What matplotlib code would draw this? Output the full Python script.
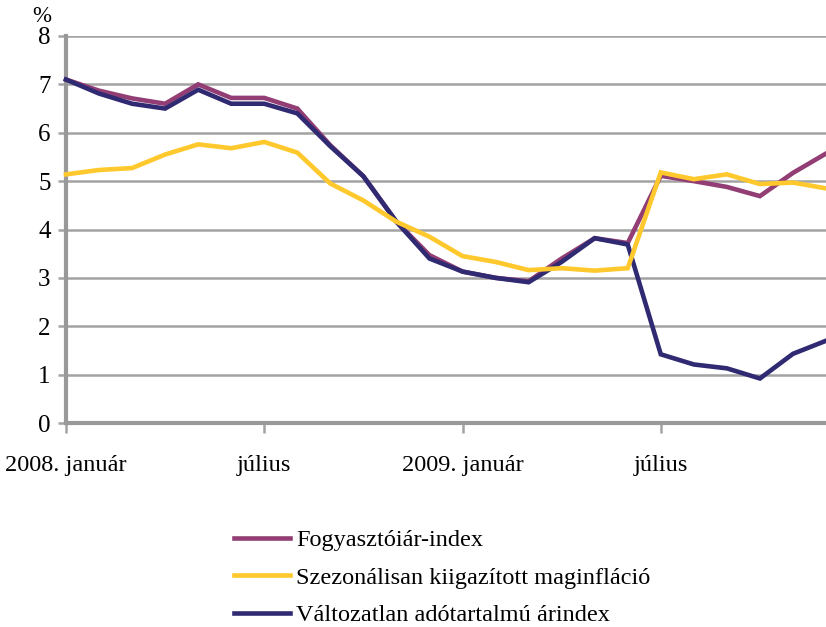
import matplotlib
matplotlib.use("Agg")
import matplotlib.pyplot as plt
from matplotlib.lines import Line2D

months = list(range(24))
tick_positions = [0, 6, 12, 18]
tick_labels = ["2008. január", "július", "2009. január", "július"]

cpi = [7.10, 6.87, 6.71, 6.60, 7.00, 6.72, 6.72, 6.50, 5.74, 5.10, 4.16, 3.47,
       3.13, 3.00, 2.93, 3.40, 3.82, 3.72, 5.11, 5.00, 4.88, 4.69, 5.17, 5.57]
core = [5.14, 5.23, 5.27, 5.55, 5.76, 5.68, 5.81, 5.59, 4.95, 4.60, 4.16, 3.85,
        3.45, 3.33, 3.16, 3.20, 3.15, 3.20, 5.18, 5.04, 5.14, 4.94, 4.97, 4.85]
const_tax = [7.10, 6.81, 6.60, 6.50, 6.89, 6.60, 6.60, 6.40, 5.72, 5.10, 4.16, 3.40,
             3.13, 3.00, 2.91, 3.33, 3.82, 3.69, 1.42, 1.21, 1.13, 0.92, 1.43, 1.70]

names = ["Fogyasztóiár-index", "Szezonálisan kiigazított maginfláció",
         "Változatlan adótartalmú árindex"]
colors = ["#923E74", "#FFC82C", "#2F2A72"]

plt.rcParams["font.family"] = ["Liberation Serif", "DejaVu Serif"]
fig = plt.figure(figsize=(8.26, 6.27), dpi=100)
ax = fig.add_axes([66 / 826, 1 - 423 / 627, 1 - 66 / 826, (423 - 36) / 627])

FS = 17.5
grid_c = "#A3A3A3"
lw = 3.3
ax.plot(months, cpi, color=colors[0], lw=lw, solid_joinstyle="miter", zorder=3, clip_on=False)
ax.plot(months, const_tax, color=colors[2], lw=lw, solid_joinstyle="miter", zorder=4, clip_on=False)
ax.plot(months, core, color=colors[1], lw=lw, solid_joinstyle="miter", zorder=5, clip_on=False)

ax.set_xlim(0, 23)
ax.set_ylim(0, 8)
ax.set_yticks(range(0, 9))
ax.yaxis.grid(True, color=grid_c, lw=1.8)
ax.set_axisbelow(True)
ax.set_xticks(tick_positions)
ax.set_xticklabels(tick_labels, fontsize=FS)
for t in ax.get_yticklabels():
    t.set_fontsize(FS + 0.5)
ax.tick_params(axis="y", direction="out", length=6, width=1.8, color=grid_c, pad=5)
ax.tick_params(axis="x", direction="out", length=7, width=1.8, color=grid_c, pad=16)
for s in ["top", "right"]:
    ax.spines[s].set_visible(False)
for s in ["left", "bottom"]:
    ax.spines[s].set_color("#999999")
    ax.spines[s].set_linewidth(3)

fig.text(42 / 826, 1 - 17 / 627, "%", fontsize=FS - 1, ha="center", va="center")

handles = [Line2D([], [], color=c, lw=lw) for c in colors]
fig.legend(handles, names, loc="upper left", bbox_to_anchor=(234 / 826, 1 - 529 / 627),
           frameon=False, fontsize=FS, handlelength=2.3, handletextpad=0.25,
           labelspacing=0.64, borderaxespad=0, borderpad=0)

fig.savefig("out.png", dpi=100)
